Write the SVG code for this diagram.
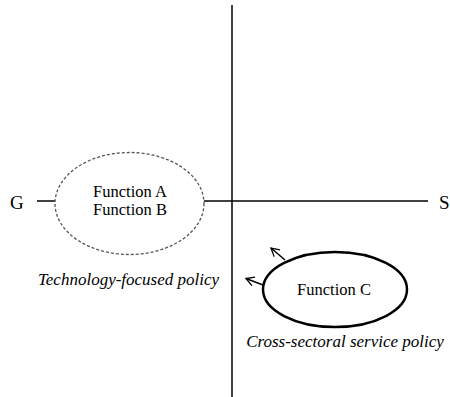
<svg xmlns="http://www.w3.org/2000/svg" width="450" height="397" viewBox="0 0 450 397" font-family="Liberation Serif, DejaVu Serif, serif">
<defs>
<marker id="open" markerWidth="12" markerHeight="12" refX="10" refY="6" orient="auto" markerUnits="userSpaceOnUse" viewBox="0 0 12 12">
<path d="M2,1.5 L10,6 L2,10.5" fill="none" stroke="#000" stroke-width="1.3"/>
</marker>
<style>
.i{font-style:italic}
.ln{stroke:#000;stroke-width:1.5;fill:none}
</style>
</defs>
<rect width="450" height="397" fill="#fff"/>
<g id="axes">
<line class="ln" x1="232" y1="5" x2="232" y2="397"/>
<line class="ln" x1="204" y1="201" x2="428" y2="201"/>
<line class="ln" x1="37" y1="201" x2="55" y2="201"/>
<text x="10" y="209" font-size="19" font-family="Liberation Serif, serif">G</text>
<text x="439" y="209" font-size="19" font-family="Liberation Serif, serif">S</text>
</g>
<g id="nodeAB">
<ellipse cx="129.5" cy="203.5" rx="74.5" ry="51" fill="none" stroke="#555" stroke-width="1.3" stroke-dasharray="3,2"/>
<text x="130" y="196.5" font-size="16.5" text-anchor="middle" font-family="Liberation Serif, serif">Function A</text>
<text x="130" y="214.5" font-size="16.5" text-anchor="middle" font-family="Liberation Serif, serif">Function B</text>
<text class="i" x="128.5" y="285" font-size="17" text-anchor="middle" font-family="Liberation Serif, serif">Technology-focused policy</text>
</g>
<g id="nodeC">
<ellipse cx="335" cy="289.5" rx="72" ry="37.5" fill="none" stroke="#000" stroke-width="2.5"/>
<text x="334" y="295" font-size="16.5" text-anchor="middle" font-family="Liberation Serif, serif">Function C</text>
<text class="i" x="345" y="347" font-size="17" text-anchor="middle" font-family="Liberation Serif, serif">Cross-sectoral service policy</text>
</g>
<g id="connectors">
<line class="ln" x1="285" y1="260" x2="271" y2="248" stroke-width="1.2" marker-end="url(#open)"/>
<line class="ln" x1="263" y1="285" x2="246" y2="278.5" stroke-width="1.2" marker-end="url(#open)"/>
</g>
</svg>
